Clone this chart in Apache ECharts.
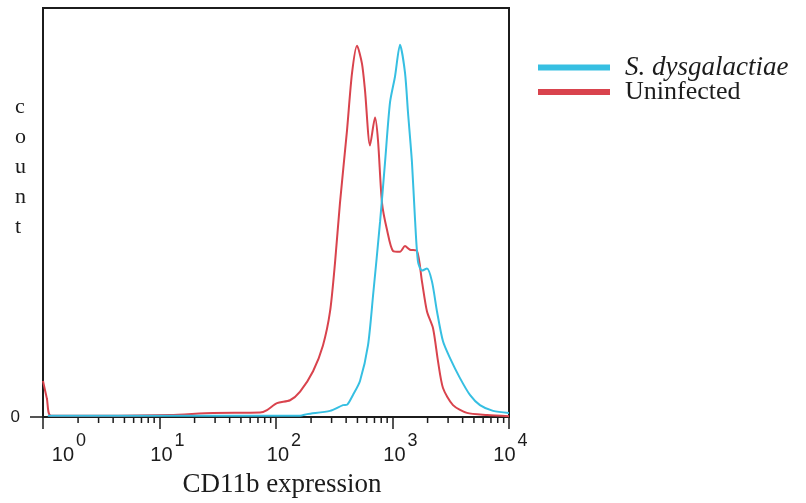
<!DOCTYPE html>
<html>
<head>
<meta charset="utf-8">
<title>CD11b expression histogram</title>
<script src="https://cdn.jsdelivr.net/npm/echarts@6/dist/echarts.min.js"></script>
<style>
  html, body { margin: 0; padding: 0; background: #ffffff; }
  #chart { width: 806px; height: 503px; }
</style>
</head>
<body>
<div id="chart"></div>
<script>
// Histogram traces: fluorescence intensity (log scale) and relative event count
const seriesNames = ['S. dysgalactiae', 'Uninfected'];

const uninfectedExpr = [1.0, 1.08, 1.17, 3.1, 12.3, 28.8, 72.9, 83.7, 102, 132, 161, 208, 253, 291, 321, 354, 407, 449, 496, 547, 581, 641, 708, 751, 813, 898, 1010, 1160, 1280, 1413, 1622, 1791, 1977, 2228, 2459, 2713, 3306, 4358, 6474, 10000];
const uninfectedCount = [8.8, 4.5, 0.3, 0.3, 0.5, 1.0, 1.1, 1.7, 3.4, 4.1, 6.2, 11.2, 17.5, 25.8, 37.7, 52.3, 70.1, 84.0, 90.8, 86.4, 79.8, 66.4, 73.2, 67.6, 52.3, 45.7, 40.6, 40.4, 41.8, 40.9, 40.6, 33.1, 25.8, 21.7, 13.6, 7.1, 2.9, 1.0, 0.5, 0.2];

const infectedExpr = [1.1, 12, 80, 161, 185, 291, 376, 407, 458, 526, 616, 681, 782, 863, 952, 1050, 1160, 1280, 1358, 1469, 1560, 1656, 1791, 1977, 2183, 2410, 2713, 3117, 3796, 4621, 5633, 7296, 10000];
const infectedCount = [0.3, 0.3, 0.3, 0.3, 0.7, 1.5, 2.9, 3.0, 5.4, 8.8, 17.5, 29.7, 47.7, 62.3, 76.9, 83.2, 91.0, 84.2, 74.5, 62.3, 48.4, 37.9, 35.8, 36.3, 33.1, 25.8, 18.5, 14.4, 9.5, 5.4, 2.9, 1.5, 1.0];

// Axis ticks
const majorTickValues = [1, 10, 100, 1000, 10000];
const minorTickValues = [2, 3, 4, 5, 6, 7, 8, 9,
  20, 30, 40, 50, 60, 70, 80, 90,
  200, 300, 400, 500, 600, 700, 800, 900,
  2000, 3000, 4000, 5000, 6000, 7000, 8000, 9000];
const yTickLabels = ['0'];

const toPairs = (xs, ys) => xs.map((x, i) => [x, ys[i]]);

const RED = '#d9434d';
const CYAN = '#36bfe2';
const INK = '#1c1c1c';

const chart = echarts.init(document.getElementById('chart'), null, { renderer: 'canvas' });

chart.setOption({
  animation: false,
  backgroundColor: '#ffffff',
  grid: {
    left: 43, right: 297, top: 8, bottom: 84,
    show: true, borderColor: INK, borderWidth: 2, backgroundColor: 'transparent'
  },
  legend: {
    data: seriesNames,
    orient: 'vertical',
    left: 538, top: 54,
    padding: 0,
    itemWidth: 72, itemHeight: 6, itemGap: -2,
    icon: 'rect',
    textStyle: {
      rich: {
        i: { fontFamily: 'Liberation Serif', fontStyle: 'italic', fontSize: 27, color: INK, lineHeight: 24, padding: [0, 0, 0, 10] },
        n: { fontFamily: 'Liberation Serif', fontSize: 26, color: INK, lineHeight: 24, padding: [0, 0, 0, 10] }
      }
    },
    formatter: name => name === seriesNames[0] ? '{i|' + name + '}' : '{n|' + name + '}'
  },
  xAxis: {
    type: 'log',
    logBase: 10,
    min: majorTickValues[0],
    max: majorTickValues[majorTickValues.length - 1],
    splitNumber: 4,
    name: 'CD11b expression',
    nameLocation: 'middle',
    nameGap: 54,
    nameTextStyle: { fontFamily: 'Liberation Serif', fontSize: 27, color: INK, padding: [0, 0, 0, 12] },
    axisLine: { show: true, lineStyle: { color: INK, width: 2 } },
    axisTick: { show: true, length: 12, lineStyle: { color: INK, width: 1.5 } },
    splitLine: { show: false },
    axisLabel: {
      margin: 15,
      showMinLabel: true,
      showMaxLabel: true,
      formatter: function (value, index) {
        const exp = Math.round(Math.log10(value));
        const pad = exp === 0 ? 'p0' : (exp === 4 ? 'p4' : 'p');
        return '{' + pad + '|}{b|10}{s|' + exp + '}';
      },
      rich: {
        p: { width: 16, height: 33 },
        p0: { width: 52, height: 33 },
        p4: { width: 3, height: 33 },
        b: { fontFamily: 'Liberation Sans', fontSize: 20, color: INK, lineHeight: 20, verticalAlign: 'bottom' },
        s: { fontFamily: 'Liberation Sans', fontSize: 18, color: INK, lineHeight: 18, verticalAlign: 'top', padding: [0, 0, 0, 2] }
      }
    }
  },
  yAxis: {
    type: 'value',
    min: 0,
    max: 100,
    axisLine: { show: true, lineStyle: { color: INK, width: 2 } },
    axisTick: { show: true, length: 13, customValues: [0], lineStyle: { color: INK, width: 1.5 } },
    splitLine: { show: false },
    axisLabel: {
      customValues: [0],
      formatter: v => yTickLabels[0],
      fontFamily: 'Liberation Sans',
      fontSize: 17,
      color: INK,
      margin: 23,
      padding: [0, 0, 12, 0]
    }
  },
  graphic: [{
    type: 'text',
    left: 15, top: 92,
    style: {
      text: 'count'.split('').join('\n'),
      font: '22px "Liberation Serif"',
      lineHeight: 30,
      fill: INK,
      align: 'center'
    }
  }],
  series: [
    {
      name: seriesNames[1],
      type: 'line',
      data: toPairs(uninfectedExpr, uninfectedCount),
      showSymbol: false,
      smooth: 0.25,
      lineStyle: { color: RED, width: 2 },
      itemStyle: { color: RED },
      z: 3
    },
    {
      name: seriesNames[0],
      type: 'line',
      data: toPairs(infectedExpr, infectedCount),
      showSymbol: false,
      smooth: 0.25,
      lineStyle: { color: CYAN, width: 2 },
      itemStyle: { color: CYAN },
      z: 4
    },
    {
      // minor log-decade tick marks under the x axis
      name: 'minorTicks',
      type: 'custom',
      silent: true,
      clip: false,
      z: 10,
      data: minorTickValues.map(v => [v, 0]),
      encode: { x: 0, y: 1 },
      renderItem: function (params, api) {
        const p = api.coord([api.value(0), 0]);
        return {
          type: 'line',
          shape: { x1: p[0], y1: p[1], x2: p[0], y2: p[1] + 6 },
          style: { stroke: INK, lineWidth: 1.5 }
        };
      }
    }
  ]
});
</script>
</body>
</html>
